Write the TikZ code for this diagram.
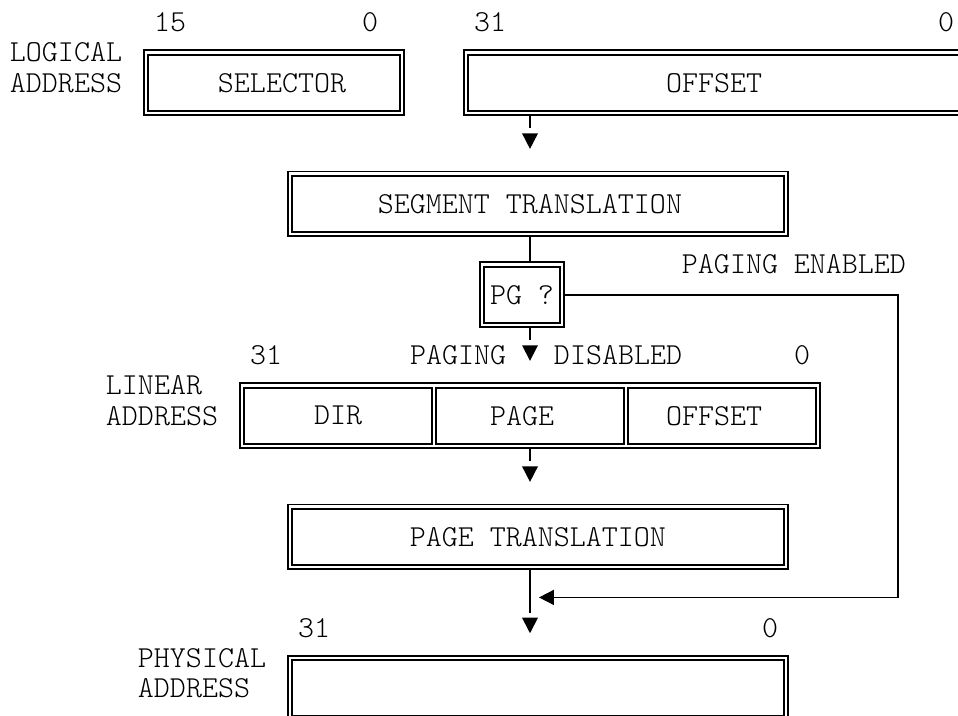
\documentclass[tikz,border=0pt]{standalone}
\usetikzlibrary{arrows.meta}
\begin{document}
\begin{tikzpicture}[x=16pt,y=-30.27pt,
  txt/.style={font=\fontsize{30.48pt}{36pt}\ttfamily\fontseries{l}\selectfont, inner sep=0pt, text=black},
  dbox/.style={draw, double=white, double distance=2.6pt, line width=1.8pt, inner sep=0pt, outer sep=3.1pt, minimum height=60.54pt},
  sec/.style={draw, line width=1.8pt, inner sep=0pt, outer sep=0pt, minimum width=187.6pt, minimum height=56.14pt},
  obox/.style={draw, line width=1.8pt, inner sep=0pt, outer sep=0.9pt, minimum width=580.4pt, minimum height=64.94pt},
  wire/.style={line width=1.6pt},
  tip/.style={-{Triangle[length=15pt,width=15pt]}},
]
\useasboundingbox (-1.125,-0.7367) rectangle (58.75,22.884);
\clip (-1.125,-0.7367) rectangle (58.75,22.884);

% boxes
\node[dbox, minimum width=256pt] (sel) at (16,2) {};
\node[dbox, minimum width=496pt] (off) at (43.5,2) {};
\node[dbox, minimum width=496pt] (seg) at (32.5,6) {};
\node[dbox, minimum width=80pt] (pg) at (31.5,9) {};
\node[obox] (lin) at (32,13) {};
\node[sec] (dir) at (20,13) {};
\node[sec] (page) at (32,13) {};
\node[sec] (loff) at (44,13) {};
\node[dbox, minimum width=496pt] (ptr) at (32.5,17) {};
\node[dbox, minimum width=496pt] (phys) at (32.5,22) {};

% texts
\node[txt] (t15) at (9.5,0) {15};
\node[txt] (t0a) at (22,0) {0};
\node[txt] (t31a) at (29.5,0) {31};
\node[txt] (t0b) at (58,0) {0};
\node[txt] (tlog) at (3,1) {LOGICAL};
\node[txt] (tla) at (3,2) {ADDRESS};
\node[txt] (tsel) at (16.5,2) {SELECTOR};
\node[txt] (toff) at (43.5,2) {OFFSET};
\node[txt] (tseg) at (32,6) {SEGMENT TRANSLATION};
\node[txt] (ten) at (48.5,8) {PAGING ENABLED};
\node[txt] (tpg) at (31.5,9) {PG ?};
\node[txt] (t31b) at (15.5,11) {31};
\node[txt] (tpag) at (27.5,11) {PAGING};
\node[txt] (tdis) at (37.5,11) {DISABLED};
\node[txt] (t0c) at (49,11) {0};
\node[txt] (tlin) at (8.5,12) {LINEAR};
\node[txt] (tlina) at (9,13) {ADDRESS};
\node[txt] (tdir) at (20,13) {DIR};
\node[txt] (tpage) at (31.5,13) {PAGE};
\node[txt] (tloff) at (43.5,13) {OFFSET};
\node[txt] (tptr) at (32.5,17) {PAGE TRANSLATION};
\node[txt] (t31c) at (18.5,20) {31};
\node[txt] (t0d) at (47,20) {0};
\node[txt] (tphy) at (11.5,21) {PHYSICAL};
\node[txt] (tpha) at (11,22) {ADDRESS};

% connector coordinates
\coordinate (k) at (32,0);
\coordinate (s1) at (32,3.5);
\coordinate (s2) at (32,10.5);
\coordinate (s3) at (32,14.5);
\coordinate (s4) at (32,19.5);
\coordinate (r9) at (55,9);
\coordinate (r19) at (55,19);
\coordinate (back) at (32.56,19);
\coordinate (a1) at (32,4);
\coordinate (a2) at (32,11);
\coordinate (a3) at (32,15);
\coordinate (a4) at (32,20);

% connectors
\draw[wire] (off.south -| k) -- (s1);
\draw[wire] (seg.south -| k) -- (pg.north -| k);
\draw[wire] (pg.south -| k) -- (s2);
\draw[wire] (lin.south) -- (s3);
\draw[wire] (ptr.south -| k) -- (s4);
\draw[wire, tip] (pg.east) -- (r9) -- (r19) -- (back);

% down arrowheads
\foreach \a in {a1,a2,a3,a4}
  \fill ([yshift=10pt]\a) -- ++(8pt,0) -- ++(-8pt,-15.5pt) -- ++(-8pt,15.5pt) -- cycle;
\end{tikzpicture}
\end{document}
